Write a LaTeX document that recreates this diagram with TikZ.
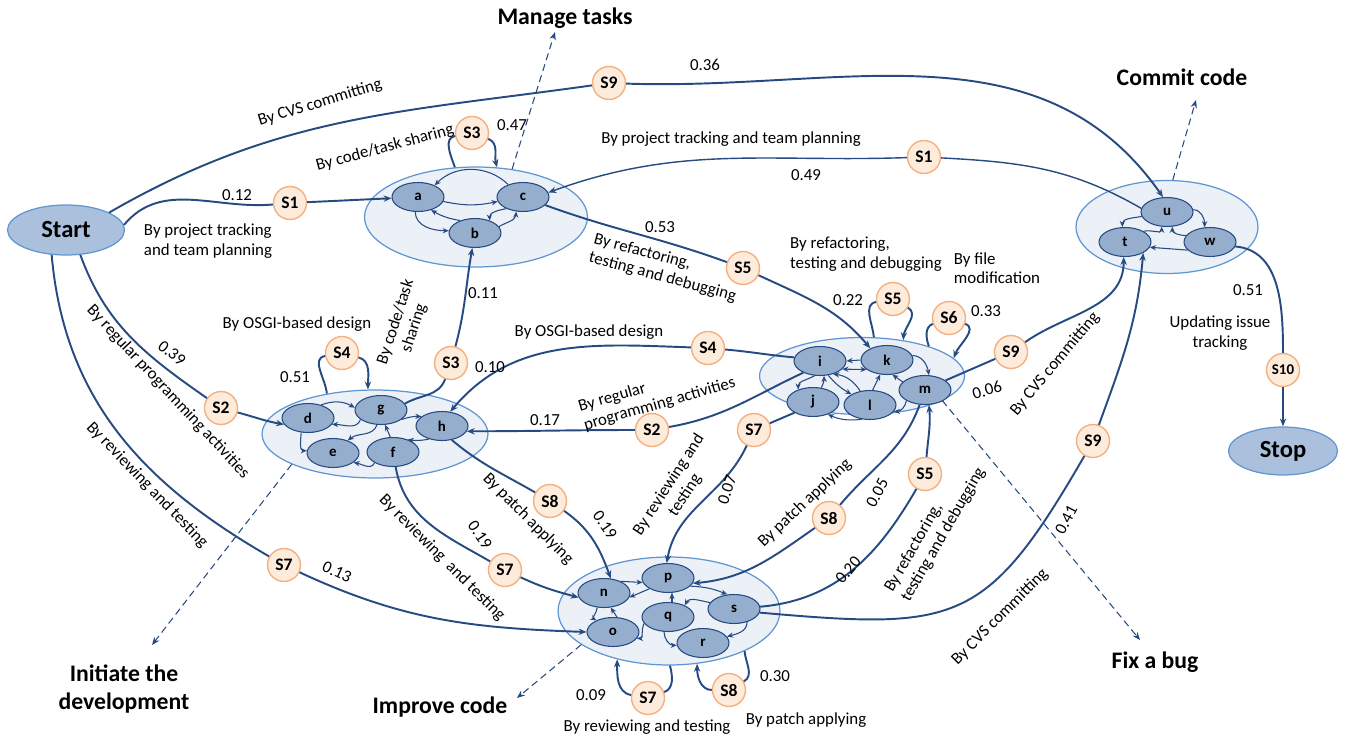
\documentclass[tikz,border=0pt]{standalone}
\usepackage{fontspec}
\setmainfont{Carlito}
\usetikzlibrary{shapes.geometric,arrows.meta}
\definecolor{flowblue}{RGB}{38,74,130}
\definecolor{ringblue}{RGB}{95,150,210}
\definecolor{ringfill}{RGB}{236,240,247}
\definecolor{statefill}{RGB}{150,174,205}
\definecolor{endfill}{RGB}{170,192,220}
\definecolor{stepdraw}{RGB}{245,176,128}
\definecolor{stepfill}{RGB}{253,235,220}

\begin{document}
\begin{tikzpicture}[x=0.02cm, y=-0.02cm,
  >={Stealth[length=4.5pt,width=3.6pt]},
  txt/.style={font=\fontsize{9.6}{11}\selectfont, align=center, inner sep=0.5pt},
  phase/.style={font=\bfseries\fontsize{13.5}{15.5}\selectfont, align=center, inner sep=1pt},
  endnode/.style={ellipse, draw=ringblue, fill=endfill, line width=0.7pt, minimum width=2.34cm, minimum height=1cm, font=\bfseries\fontsize{14}{16}\selectfont},
  cluster/.style={ellipse, draw=ringblue, fill=ringfill, line width=0.7pt, inner sep=0},
  task/.style={ellipse, draw=flowblue, fill=statefill, line width=0.6pt, minimum width=1.04cm, minimum height=0.58cm, inner sep=0, font=\bfseries\fontsize{8.5}{9}\selectfont},
  stepnode/.style={circle, draw=stepdraw, fill=stepfill, line width=0.8pt, minimum size=0.66cm, inner sep=0, font=\bfseries\fontsize{10}{11}\selectfont},
  mainline/.style={draw=flowblue, line width=1.1pt},
  subline/.style={draw=flowblue, line width=0.6pt, ->, >={Stealth[length=3.5pt,width=3pt]}},
  goalline/.style={draw=flowblue, line width=0.6pt, dash pattern=on 4pt off 2.5pt, ->}
]
\useasboundingbox (0,0) rectangle (1349,740);

\node[cluster, minimum width=4.46cm, minimum height=2cm] (grp_abc) at (476,217) {};
\node[cluster, minimum width=4.52cm, minimum height=1.76cm] (grp_dgh) at (375,434) {};
\node[cluster, minimum width=4.1cm, minimum height=1.54cm] (grp_ikm) at (862,376) {};
\node[cluster, minimum width=4.44cm, minimum height=2.16cm] (grp_nps) at (669,611) {};
\node[cluster, minimum width=3.64cm, minimum height=1.86cm] (grp_tuw) at (1167,227) {};

\node[endnode] (node_start) at (66,230) {Start};
\node[endnode, minimum width=2.18cm, minimum height=0.96cm] (node_stop) at (1283,451) {Stop};

\node[task] (node_a) at (418,197) {a};
\node[task] (node_b) at (475,233) {b};
\node[task] (node_c) at (523,197) {c};
\node[task] (node_d) at (308,418) {d};
\node[task] (node_g) at (381,410) {g};
\node[task] (node_h) at (442,426) {h};
\node[task] (node_e) at (333,453) {e};
\node[task] (node_f) at (393,452) {f};
\node[task] (node_i) at (820,361) {i};
\node[task] (node_k) at (887,360) {k};
\node[task] (node_m) at (925,390) {m};
\node[task] (node_j) at (813,402) {j};
\node[task] (node_l) at (870,405) {l};
\node[task] (node_n) at (604,593) {n};
\node[task] (node_p) at (668,578) {p};
\node[task] (node_o) at (613,632) {o};
\node[task] (node_q) at (668,617) {q};
\node[task] (node_s) at (734,609) {s};
\node[task] (node_r) at (703,643) {r};
\node[task] (node_u) at (1167,212) {u};
\node[task] (node_t) at (1125,242) {t};
\node[task] (node_w) at (1210,242) {w};

\node[stepnode] (s1_a) at (290,203) {S1};
\node[stepnode] (s9_u) at (609,83) {S9};
\node[stepnode] (s3_abc) at (472,133) {S3};
\node[stepnode] (s1_c) at (924,157) {S1};
\node[stepnode] (s2_d) at (221,408) {S2};
\node[stepnode] (s4_dgh) at (342,353) {S4};
\node[stepnode] (s3_b) at (451,363) {S3};
\node[stepnode] (s5_k) at (743,268) {S5};
\node[stepnode] (s5_ikm) at (893,299) {S5};
\node[stepnode] (s6_ikm) at (949,318) {S6};
\node[stepnode] (s9_t) at (1011,352) {S9};
\node[stepnode] (s4_h) at (708,348) {S4};
\node[stepnode] (s2_h) at (652,430) {S2};
\node[stepnode] (s7_p) at (754,430) {S7};
\node[stepnode] (s8_n) at (550,501) {S8};
\node[stepnode] (s7_n) at (505,570) {S7};
\node[stepnode] (s7_o) at (284,565) {S7};
\node[stepnode] (s8_p) at (829,518) {S8};
\node[stepnode] (s5_m) at (925,474) {S5};
\node[stepnode] (s9_tb) at (1093,441) {S9};
\node[stepnode, font=\bfseries\fontsize{8.5}{9}\selectfont] (s10_stop) at (1283,370) {S10};
\node[stepnode] (s7_nps) at (648,698) {S7};
\node[stepnode] (s8_nps) at (729,690) {S8};

\draw[mainline] (node_start.22) to[out=30,in=188] (s9_u);
\draw[mainline,->] (s9_u) to[out=-2,in=125] (node_u.105);
\draw[mainline] (node_start.5) to[out=50,in=185] (s1_a);
\draw[mainline,->] (s1_a) -- (node_a);
\draw[mainline] (node_c.-20) to[out=-20,in=160] (s5_k);
\draw[mainline,->] (s5_k) to[out=-25,in=130] (node_k.145);
\draw[mainline, line width=0.8pt] (node_u.172) to[out=150,in=-3] (s1_c);
\draw[mainline,->, line width=0.8pt] (s1_c) to[out=182,in=20] (node_c.10);
\draw[mainline] (grp_abc.113) to[out=110,in=190] (s3_abc);
\draw[mainline,->] (s3_abc) to[out=-20,in=105] (grp_abc.67);
\draw[mainline] (node_start.-60) to[out=-70,in=145] (s2_d);
\draw[mainline,->] (s2_d) to[out=-15,in=170] (node_d.195);
\draw[mainline] (grp_dgh.140) to[out=95,in=190] (s4_dgh);
\draw[mainline,->] (s4_dgh) to[out=-15,in=90] (grp_dgh.99);
\draw[mainline] (node_g.15) to[out=30,in=-110] (s3_b);
\draw[mainline,->] (s3_b) to[out=75,in=-100] (node_b.-100);
\draw[mainline] (node_i.172) to[out=175,in=-5] (s4_h);
\draw[mainline,->] (s4_h) to[out=178,in=50] (node_h.60);
\draw[mainline] (node_i.-145) to[out=-155,in=10] (s2_h);
\draw[mainline,->] (s2_h) to[out=180,in=0] (node_h.-12);
\draw[mainline] (grp_ikm.73) to[out=95,in=190] (s5_ikm);
\draw[mainline,->] (s5_ikm) to[out=-30,in=85] (grp_ikm.41);
\draw[mainline] (grp_ikm.24) to[out=110,in=200] (s6_ikm);
\draw[mainline,->] (s6_ikm) to[out=-20,in=70] (grp_ikm.11);
\draw[mainline] (node_m.25) -- (s9_t);
\draw[mainline,->] (s9_t) to[out=35,in=-90] (node_t.-95);
\draw[mainline] (node_j.210) -- (s7_p);
\draw[mainline,->] (s7_p) to[out=-115,in=80] (node_p.95);
\draw[mainline] (node_h.-55) to[out=-40,in=150] (s8_n);
\draw[mainline,->] (s8_n) to[out=-35,in=110] (node_n.65);
\draw[mainline] (node_f.-80) to[out=-80,in=150] (s7_n);
\draw[mainline,->] (s7_n) to[out=-25,in=165] (node_n.190);
\draw[mainline] (node_start.-120) to[out=-85,in=150] (s7_o);
\draw[mainline,->] (s7_o) to[out=-25,in=178] (node_o.west);
\draw[mainline] (node_m.-110) to[out=-110,in=50] (s8_p);
\draw[mainline,->] (s8_p) to[out=-145,in=5] (node_p.-12);
\draw[mainline] (node_s.5) to[out=5,in=-120] (s5_m);
\draw[mainline,->] (s5_m) to[out=85,in=-85] (node_m.-75);
\draw[mainline] (node_s.-8) to[out=-5,in=-120,looseness=1.4] (s9_tb);
\draw[mainline,->] (s9_tb) to[out=70,in=-95] (node_t.-31);
\draw[mainline] (node_w.-10) to[out=-5,in=90] (s10_stop);
\draw[mainline,->] (s10_stop) -- (node_stop);
\draw[mainline] (grp_nps.-89) to[out=-75,in=20] (s7_nps);
\draw[mainline,->] (s7_nps) to[out=170,in=-90] (grp_nps.-137);
\draw[mainline] (grp_nps.-28) to[out=-85,in=30] (s8_nps);
\draw[mainline,->] (s8_nps) to[out=180,in=-90] (grp_nps.-62);

\draw[subline] (node_a.-10) to[bend right=12] (node_c.190);
\draw[subline] (node_c.140) to[bend right=45] (node_a.35);
\draw[subline] (node_a.-100) to[out=-90,in=180] (node_b.175);
\draw[subline] (node_b.140) to[bend left=10] (node_a.-45);
\draw[subline] (node_c.-145) to[out=-170,in=95] (node_b.40);
\draw[subline] (node_b.15) to[out=30,in=-95] (node_c.-115);

\draw[subline] (node_d.45) to[bend left=25] (node_g.175);
\draw[subline] (node_g.-155) to[out=-110,in=0] (node_d.-15);
\draw[subline] (node_d.-115) to[out=-95,in=180] (node_e.175);
\draw[subline] (node_g.-105) to[out=-110,in=40] (node_e.40);
\draw[subline] (node_g.-25) to[bend left=10] (node_h.155);
\draw[subline] (node_f.100) -- (node_g.-75);
\draw[subline] (node_h.-135) to[bend left=10] (node_f.40);
\draw[subline] (node_f.-150) to[out=-110,in=-10] (node_e.-25);

\draw[subline] (node_k.180) -- (node_i.0);
\draw[subline, <->] (node_i.-20) -- (node_k.-155);
\draw[subline] (node_i.-110) to[out=-150,in=90] (node_j.140);
\draw[subline] (node_j.60) to[bend right=15] (node_i.-75);
\draw[subline] (node_i.-60) to[out=-50,in=150] (node_l.150);
\draw[subline] (node_l.125) to[bend right=25] (node_i.-45);
\draw[subline] (node_l.80) -- (node_k.-115);
\draw[subline] (node_m.160) -- (node_k.-70);
\draw[subline] (node_k.10) to[out=0,in=100] (node_m.75);
\draw[subline] (node_m.-150) to[out=-100,in=0] (node_l.-15);
\draw[subline] (node_l.-120) to[bend left=15] (node_j.-40);

\draw[subline] (node_p.-150) -- (node_n.-10);
\draw[subline] (node_n.35) -- (node_p.190);
\draw[subline] (node_n.-115) to[out=-95,in=150] (node_o.145);
\draw[subline] (node_o.75) -- (node_n.-65);
\draw[subline] (node_q.75) -- (node_p.-75);
\draw[subline] (node_q.-165) to[out=-120,in=0] (node_o.-15);
\draw[subline] (node_s.165) to[out=170,in=60] (node_q.35);
\draw[subline] (node_p.-20) to[bend left=10] (node_s.115);
\draw[subline] (node_q.-105) to[out=-90,in=180] (node_r.185);
\draw[subline] (node_s.-45) to[out=-90,in=15] (node_r.15);

\draw[subline] (node_u.190) to[out=190,in=90] (node_t.100);
\draw[subline] (node_t.30) to[out=15,in=-90] (node_u.-110);
\draw[subline] (node_u.5) to[out=0,in=90] (node_w.110);
\draw[subline] (node_w.165) to[out=180,in=-90] (node_u.-70);
\draw[subline] (node_w.-160) -- (node_t.-12);

\node[phase] (lbl_manage) at (565,18) {Manage tasks};
\node[phase] (lbl_commit) at (1182,77) {Commit code};
\node[phase] (lbl_init) at (124,689) {Initiate the\\development};
\node[phase] (lbl_improve) at (440,707) {Improve code};
\node[phase] (lbl_fix) at (1155,662) {Fix a bug};
\coordinate (tip_manage) at (555,32);
\coordinate (tip_commit) at (1196,100);
\coordinate (tip_init) at (152,645);
\coordinate (tip_improve) at (517,698);
\coordinate (tip_fix) at (1140,640);
\draw[goalline] (grp_abc.53) -- (tip_manage);
\draw[goalline] (grp_tuw.83) -- (tip_commit);
\draw[goalline] (grp_dgh.-160) -- (tip_init);
\draw[goalline] (grp_nps.-159) -- (tip_improve);
\draw[goalline] (grp_ikm.-17) -- (tip_fix);

\node[txt] (w_036) at (705,65) {0.36};
\node[txt] (w_012) at (237,195) {0.12};
\node[txt] (w_047) at (512,125) {0.47};
\node[txt] (w_049) at (806,175) {0.49};
\node[txt] (w_053) at (660,227) {0.53};
\node[txt] (w_011) at (483,293) {0.11};
\node[txt, rotate=-38] (w_039) at (172,353) {0.39};
\node[txt] (w_051a) at (295,377) {0.51};
\node[txt] (w_010) at (490,367) {0.10};
\node[txt] (w_017) at (545,420) {0.17};
\node[txt] (w_022) at (848,300) {0.22};
\node[txt] (w_033) at (986,311) {0.33};
\node[txt, rotate=15] (w_006) at (987,390) {0.06};
\node[txt, rotate=72] (w_007) at (727,490) {0.07};
\node[txt, rotate=62] (w_005) at (877,493) {0.05};
\node[txt, rotate=-55] (w_019a) at (480,535) {0.19};
\node[txt, rotate=-55] (w_019b) at (605,525) {0.19};
\node[txt, rotate=-25] (w_013) at (337,572) {0.13};
\node[txt, rotate=50] (w_020) at (848,570) {0.20};
\node[txt, rotate=62] (w_041) at (1066,520) {0.41};
\node[txt] (w_051b) at (1248,290) {0.51};
\node[txt] (w_009) at (591,695) {0.09};
\node[txt] (w_030) at (775,676) {0.30};

\node[txt, rotate=17] (t_cvs_a) at (320,103) {By CVS committing};
\node[txt, rotate=15] (t_share_a) at (385,148) {By code/task sharing};
\node[txt, align=left] (t_plan_a) at (208,241) {By project tracking\\and team planning};
\node[txt] (t_plan_b) at (731,139) {By project tracking and team planning};
\node[txt, align=left, rotate=-15] (t_refac_a) at (665,268) {By refactoring,\\testing and debugging};
\node[txt, align=left] (t_refac_b) at (866,254) {By refactoring,\\testing and debugging};
\node[txt, align=left] (t_file) at (997,268) {By file\\modification};
\node[txt] (t_osgi_a) at (297,324) {By OSGI-based design};
\node[txt] (t_osgi_b) at (589,332) {By OSGI-based design};
\node[txt, align=left, rotate=16] (t_reg_b) at (657,395) {By regular\\programming activities};
\node[txt, rotate=72] (t_share_b) at (405,325) {By code/task\\sharing};
\node[txt, rotate=-47] (t_reg_a) at (168,392) {By regular programming activities};
\node[txt, rotate=-46] (t_rev_a) at (147,485) {By reviewing and testing};
\node[txt, rotate=-45] (t_patch_a) at (528,519) {By patch applying};
\node[txt, rotate=-45] (t_rev_b) at (442,558) {By reviewing\ \ and testing};
\node[txt, rotate=57] (t_rev_c) at (677,490) {By reviewing and\\testing};
\node[txt, rotate=43] (t_patch_b) at (805,503) {By patch applying};
\node[txt, align=left, rotate=60] (t_refac_c) at (935,530) {By refactoring,\\testing and debugging};
\node[txt, rotate=50] (t_cvs_b) at (1055,364) {By CVS committing};
\node[txt, rotate=45] (t_cvs_c) at (1000,617) {By CVS committing};
\node[txt] (t_issue) at (1220,333) {Updating issue\\tracking};
\node[txt] (t_rev_d) at (647,727) {By reviewing and testing};
\node[txt] (t_patch_c) at (806,720) {By patch applying};

\end{tikzpicture}
\end{document}
